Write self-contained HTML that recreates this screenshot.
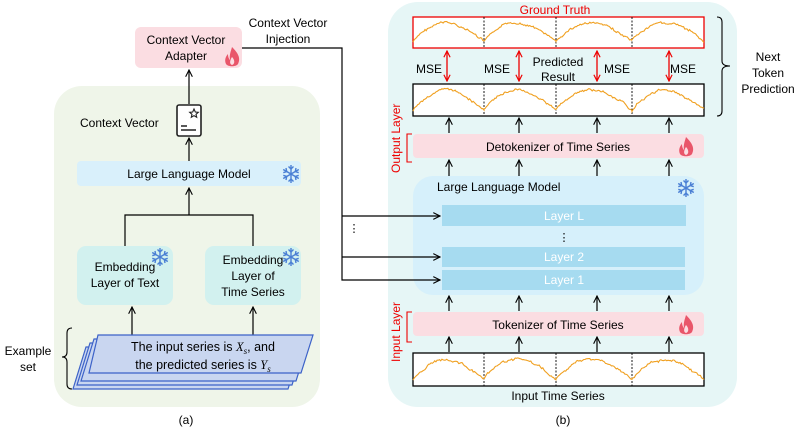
<!DOCTYPE html>
<html><head><meta charset="utf-8"><style>
body{margin:0;background:#fff;}
svg{display:block;font-family:"Liberation Sans",sans-serif;}
</style></head><body>
<svg width="798" height="428" viewBox="0 0 798 428" xmlns="http://www.w3.org/2000/svg">
<defs>
<marker id="ah" viewBox="0 0 10 10" refX="9" refY="5" markerWidth="7" markerHeight="7" orient="auto-start-reverse"><path d="M1 1 L9 5 L1 9" fill="none" stroke="#000" stroke-width="1.3"/></marker>
<marker id="rh" viewBox="0 0 10 10" refX="9" refY="5" markerWidth="6" markerHeight="6" orient="auto-start-reverse"><path d="M1 1 L9 5 L1 9" fill="none" stroke="#e00" stroke-width="1.5"/></marker>
<g id="snow" stroke="#4a7fd4" stroke-width="1.4" fill="none">
<path d="M0 -9 V9 M-7.8 -4.5 L7.8 4.5 M-7.8 4.5 L7.8 -4.5"/>
<path d="M-2.5 -7.5 L0 -5 L2.5 -7.5 M-2.5 7.5 L0 5 L2.5 7.5 M-7.7 -1.3 L-4.3 -2.5 L-5 -6 M7.7 1.3 L4.3 2.5 L5 6 M-7.7 1.3 L-4.3 2.5 L-5 6 M7.7 -1.3 L4.3 -2.5 L5 -6"/>
</g>
<g id="fire"><path d="M0 -10 C6 -4 9 1 6 7 C4 10 -4 10 -6 7 C-8 3 -6 -1 -4 -3 C-4 0 -3 2 -2 3 C-3 -2 -1 -6 0 -10 Z" fill="#e9566a"/><path d="M0 0 C3 3 3 7 0 8 C-3 7 -2 3 0 0Z" fill="#fbdde2"/></g>
</defs>

<!-- Left panel -->
<rect x="54" y="86" width="266" height="321" rx="28" fill="#eff5e9"/>
<rect x="135" y="27" width="107" height="41" rx="6" fill="#fbdde2"/>
<text x="186" y="44" font-size="12" text-anchor="middle">Context Vector</text>
<text x="186" y="60" font-size="12" text-anchor="middle">Adapter</text>
<use href="#fire" x="232" y="57"/>
<text x="288" y="27" font-size="12" text-anchor="middle">Context Vector</text>
<text x="288" y="43" font-size="12" text-anchor="middle">Injection</text>

<line x1="189" y1="104" x2="189" y2="70" stroke="#000" stroke-width="1.2" marker-end="url(#ah)"/>
<rect x="177" y="105" width="24" height="31" rx="2" fill="#fff" stroke="#222" stroke-width="1.6"/>
<path d="M181 126 h6 M181 130 h15" stroke="#222" stroke-width="1.4"/>
<path d="M194 109 l1.3 3 3 .3 -2.3 2 .7 3 -2.7 -1.6 -2.7 1.6 .7 -3 -2.3 -2 3 -.3Z" fill="none" stroke="#222" stroke-width="1.1"/>
<text x="80" y="127" font-size="12">Context Vector</text>
<line x1="189" y1="161" x2="189" y2="138" stroke="#000" stroke-width="1.2" marker-end="url(#ah)"/>

<rect x="77" y="161" width="224" height="25" rx="4" fill="#d9f0fb"/>
<text x="189" y="178" font-size="12" text-anchor="middle">Large Language Model</text>
<use href="#snow" x="291" y="174"/>
<line x1="189" y1="215" x2="189" y2="188" stroke="#000" stroke-width="1.2" marker-end="url(#ah)"/>
<polyline points="125,246 125,215 253,215 253,246" fill="none" stroke="#000" stroke-width="1.2"/>

<rect x="77" y="246" width="96" height="59" rx="9" fill="#d2f1ef"/>
<text x="125" y="271" font-size="12" text-anchor="middle">Embedding</text>
<text x="125" y="287" font-size="12" text-anchor="middle">Layer of Text</text>
<use href="#snow" x="160" y="257"/>
<rect x="205" y="246" width="96" height="59" rx="9" fill="#d2f1ef"/>
<text x="253" y="264" font-size="12" text-anchor="middle">Embedding</text>
<text x="253" y="280" font-size="12" text-anchor="middle">Layer of</text>
<text x="253" y="296" font-size="12" text-anchor="middle">Time Series</text>
<use href="#snow" x="291" y="257"/>
<line x1="132" y1="335" x2="132" y2="307" stroke="#000" stroke-width="1.2" marker-end="url(#ah)"/>
<line x1="253" y1="335" x2="253" y2="307" stroke="#000" stroke-width="1.2" marker-end="url(#ah)"/>

<g fill="#c9d6f0" stroke="#3c62c8" stroke-width="1.2">
<polygon points="86,347 301,347 288,389 73,389"/>
<polygon points="90,343 305,343 292,385 77,385"/>
<polygon points="94,339 309,339 296,381 81,381"/>
<polygon points="98,335 313,335 301,373 89,373"/>
</g>
<text x="203" y="351" font-size="12.5" text-anchor="middle">The input series is <tspan font-family="Liberation Serif" font-style="italic">X<tspan font-size="9" dy="3">s</tspan></tspan><tspan dy="-3">, and</tspan></text>
<text x="203" y="369" font-size="12.5" text-anchor="middle">the predicted series is <tspan font-family="Liberation Serif" font-style="italic">Y<tspan font-size="9" dy="3">s</tspan></tspan></text>
<path d="M72 328 Q67 328 67 333 V352 Q67 357 62 357 Q67 357 67 362 V384 Q67 389 72 389" fill="none" stroke="#000" stroke-width="1.1"/>
<text x="28" y="355" font-size="12" text-anchor="middle">Example</text>
<text x="28" y="371" font-size="12" text-anchor="middle">set</text>
<text x="186" y="424" font-size="12" text-anchor="middle">(a)</text>

<!-- Right panel -->
<rect x="388" y="2" width="349" height="405" rx="30" fill="#e6f6f6"/>
<text x="555" y="14" font-size="12" fill="#e00" text-anchor="middle">Ground Truth</text>
<rect x="413" y="17" width="291" height="31" fill="#fff" stroke="#e00" stroke-width="1.3"/>
<rect x="413" y="84" width="291" height="32" fill="#fff" stroke="#000" stroke-width="1.3"/>
<rect x="413" y="353" width="291" height="33" fill="#fff" stroke="#000" stroke-width="1.3"/>
<g stroke="#000" stroke-width="0.9" stroke-dasharray="2,1.5">
<path d="M484 17 V48 M556 17 V48 M632 17 V48 M484 84 V116 M556 84 V116 M632 84 V116 M484 353 V386 M556 353 V386 M632 353 V386"/>
</g>
<g id="waves" fill="none" stroke="#f0a020" stroke-width="1.1"></g>

<g stroke="#e00" stroke-width="1.3">
<line x1="447" y1="51" x2="447" y2="81" marker-start="url(#rh)" marker-end="url(#rh)"/>
<line x1="519" y1="51" x2="519" y2="81" marker-start="url(#rh)" marker-end="url(#rh)"/>
<line x1="597" y1="51" x2="597" y2="81" marker-start="url(#rh)" marker-end="url(#rh)"/>
<line x1="669" y1="51" x2="669" y2="81" marker-start="url(#rh)" marker-end="url(#rh)"/>
</g>
<g font-size="12">
<text x="416" y="73">MSE</text><text x="484" y="73">MSE</text><text x="604" y="73">MSE</text><text x="670" y="73">MSE</text>
<text x="558" y="66" text-anchor="middle">Predicted</text><text x="558" y="81" text-anchor="middle">Result</text>
</g>
<path d="M717 17 Q722 17 722 22 V61 Q722 66 730 66 Q722 66 722 71 V111 Q722 116 717 116" fill="none" stroke="#000" stroke-width="1.1"/>
<g font-size="12" text-anchor="middle"><text x="768" y="61">Next</text><text x="768" y="77">Token</text><text x="768" y="93">Prediction</text></g>

<g stroke="#000" stroke-width="1.2" marker-end="url(#ah)">
<line x1="449" y1="133" x2="449" y2="118"/><line x1="519" y1="133" x2="519" y2="118"/><line x1="597" y1="133" x2="597" y2="118"/><line x1="669" y1="133" x2="669" y2="118"/>
<line x1="449" y1="176" x2="449" y2="160"/><line x1="519" y1="176" x2="519" y2="160"/><line x1="597" y1="176" x2="597" y2="160"/><line x1="669" y1="176" x2="669" y2="160"/>
<line x1="449" y1="311" x2="449" y2="296"/><line x1="519" y1="311" x2="519" y2="296"/><line x1="597" y1="311" x2="597" y2="296"/><line x1="669" y1="311" x2="669" y2="296"/>
<line x1="449" y1="352" x2="449" y2="337"/><line x1="519" y1="352" x2="519" y2="337"/><line x1="597" y1="352" x2="597" y2="337"/><line x1="669" y1="352" x2="669" y2="337"/>
</g>

<rect x="413" y="134" width="291" height="24" rx="4" fill="#fbdde2"/>
<text x="558" y="151" font-size="12" text-anchor="middle">Detokenizer of Time Series</text>
<use href="#fire" x="686" y="147"/>

<rect x="413" y="176" width="291" height="119" rx="20" fill="#d6f0fb"/>
<text x="437" y="191" font-size="12">Large Language Model</text>
<use href="#snow" x="686" y="188"/>
<rect x="442" y="205" width="244" height="21" fill="#a6dbf0"/>
<text x="564" y="220" font-size="12" fill="#fff" text-anchor="middle">Layer L</text>
<text x="564" y="241" font-size="11" text-anchor="middle">⋮</text>
<rect x="442" y="247" width="243" height="20" fill="#a6dbf0"/>
<text x="564" y="261" font-size="12" fill="#fff" text-anchor="middle">Layer 2</text>
<rect x="442" y="270" width="243" height="20" fill="#a6dbf0"/>
<text x="564" y="284" font-size="12" fill="#fff" text-anchor="middle">Layer 1</text>

<rect x="413" y="312" width="291" height="24" rx="4" fill="#fbdde2"/>
<text x="558" y="329" font-size="12" text-anchor="middle">Tokenizer of Time Series</text>
<use href="#fire" x="686" y="325"/>
<text x="558" y="400" font-size="12" text-anchor="middle">Input Time Series</text>
<text x="563" y="424" font-size="12" text-anchor="middle">(b)</text>

<text transform="translate(400,173) rotate(-90)" font-size="12" fill="#e00">Output Layer</text>
<path d="M412 134 H407 V162 H412" fill="none" stroke="#e00" stroke-width="1.1"/>
<text transform="translate(400,362) rotate(-90)" font-size="12" fill="#e00">Input Layer</text>
<path d="M412 312 H407 V342 H412" fill="none" stroke="#e00" stroke-width="1.1"/>

<!-- injection connectors on top -->
<polyline points="242,48 342,48 342,280 440,280" fill="none" stroke="#000" stroke-width="1.2" marker-end="url(#ah)"/>
<line x1="342" y1="216" x2="440" y2="216" stroke="#000" stroke-width="1.2" marker-end="url(#ah)"/>
<line x1="342" y1="257" x2="440" y2="257" stroke="#000" stroke-width="1.2" marker-end="url(#ah)"/>
<text x="354" y="232" font-size="11" text-anchor="middle">⋮</text>
</svg>
<script>
(function(){
var g=document.getElementById('waves');var seed=7;function r(){seed=(seed*9301+49297)%233280;return seed/233280;}
function wave(y0,h){var segs=[[413,484],[484,556],[556,632],[632,704]];var d='';var off=0;
segs.forEach(function(s,i){var n=Math.floor((s[1]-s[0])/1.2);for(var k=0;k<=n;k++){var x=s[0]+(s[1]-s[0])*k/n;var t=k/n;var v=Math.sin(Math.PI*Math.pow(t,0.9));off+= (r()-0.5)*1.6;off*=0.85;var y=y0+h-6-v*(h-12)+off+(r()-0.5)*1.5;d+=(i==0&&k==0?'M':'L')+x.toFixed(1)+' '+y.toFixed(1)+' ';}});
var p=document.createElementNS('http://www.w3.org/2000/svg','path');p.setAttribute('d',d);g.appendChild(p);}
wave(17,31);wave(84,32);wave(353,33);
})();
</script>
</body></html>
